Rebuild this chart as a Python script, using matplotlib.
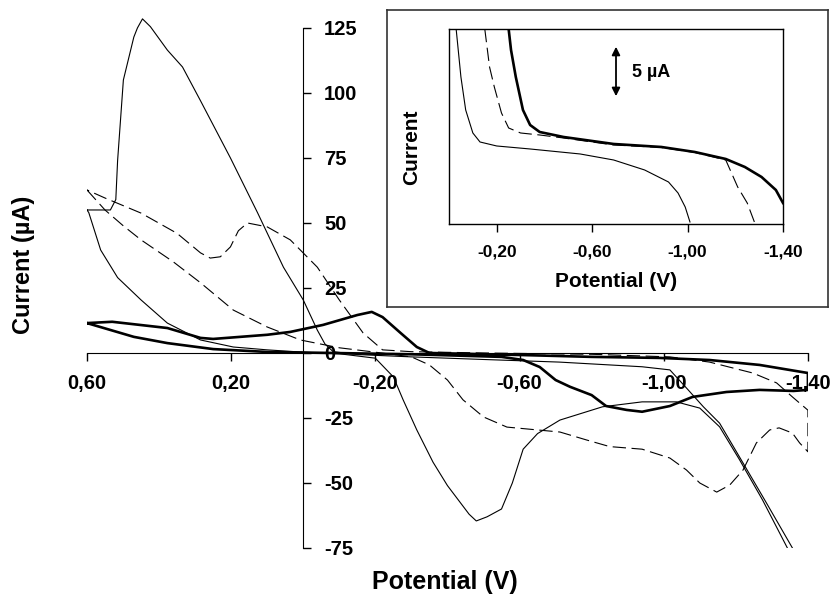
import matplotlib
matplotlib.use("Agg")
import matplotlib.pyplot as plt
from matplotlib.ticker import FuncFormatter

plt.rcParams['font.family'] = ['Liberation Sans', 'DejaVu Sans']
plt.rcParams['font.weight'] = 'bold'
plt.rcParams['axes.unicode_minus'] = False

# --- main voltammograms (potential V, current uA) ---
thin_x = [0.60, 0.595, 0.562, 0.515, 0.45, 0.377, 0.285, 0.194, 0.10, 0.0, -0.10, -0.20,
          -0.25, -0.277, -0.315, -0.36, -0.40, -0.43, -0.46, -0.48, -0.51, -0.55, -0.58,
          -0.61, -0.65, -0.712, -0.83, -0.94, -1.035, -1.10, -1.155, -1.21, -1.274, -1.343,
          -1.38, -1.357, -1.285, -1.22, -1.155, -1.11, -1.06, -1.017, -0.94, -0.71, -0.50,
          -0.30, -0.15, -0.083, -0.06, -0.039, 0.0, 0.055, 0.127, 0.202, 0.285, 0.335,
          0.377, 0.424, 0.446, 0.46, 0.47, 0.499, 0.515, 0.52, 0.535, 0.585, 0.60]
thin_y = [55.0, 54.0, 39.6, 29.0, 20.4, 11.5, 5.0, 2.3, 1.2, 0.3, -0.3, -2.0,
          -9.2, -18.0, -29.6, -42.0, -51.0, -56.5, -62.0, -64.6, -63.0, -60.0, -50.0,
          -37.0, -31.0, -25.8, -20.7, -18.8, -18.8, -21.2, -28.4, -41.0, -56.5, -75.0,
          -86.0, -75.0, -57.7, -42.3, -27.0, -20.7, -13.0, -6.5, -5.3, -3.5, -2.5,
          -1.5, -0.6, 0.5, 3.5, 8.8, 20.4, 33.0, 54.0, 75.0, 97.0, 110.0,
          116.5, 125.5, 128.5, 125.0, 121.5, 105.0, 74.0, 59.0, 55.0, 55.0, 55.0]

dash_x = [0.60, 0.55, 0.50, 0.45, 0.36, 0.285, 0.194, 0.10, 0.008, -0.10, -0.20, -0.30,
          -0.35, -0.40, -0.443, -0.50, -0.565, -0.65, -0.712, -0.787, -0.85, -0.94, -1.017,
          -1.063, -1.10, -1.147, -1.183, -1.22, -1.257, -1.294, -1.32, -1.357, -1.377, -1.40,
          -1.40, -1.357, -1.313, -1.247, -1.127, -1.017, -0.80, -0.50, -0.30, -0.22, -0.166,
          -0.10, -0.039, 0.036, 0.10, 0.155, 0.18, 0.202, 0.23, 0.258, 0.285, 0.35, 0.45,
          0.55, 0.60]
dash_y = [62.7, 55.0, 49.0, 43.5, 35.0, 27.0, 16.5, 10.0, 5.0, 2.0, 0.3, -1.5,
          -4.6, -10.4, -18.0, -24.6, -28.5, -29.6, -30.4, -33.5, -36.0, -37.0, -40.4,
          -45.0, -50.0, -53.5, -50.8, -45.0, -34.6, -29.6, -28.8, -30.8, -34.6, -38.0,
          -22.0, -16.9, -11.5, -7.7, -3.5, -1.5, -0.5, 0.0, 0.5, 1.2, 7.7,
          20.4, 33.0, 43.5, 48.5, 50.0, 47.0, 40.8, 37.0, 36.5, 38.5, 46.0, 53.8,
          59.6, 62.7]

thick_x = [0.60, 0.47, 0.377, 0.25, 0.10, -0.08, -0.30, -0.55, -0.61, -0.656, -0.70, -0.74,
           -0.80, -0.84, -0.897, -0.94, -1.017, -1.08, -1.174, -1.266, -1.36, -1.40,
           -1.40, -1.266, -1.127, -0.989, -0.80, -0.61, -0.35, -0.315, -0.27, -0.22, -0.19,
           -0.15, -0.055, 0.036, 0.10, 0.25, 0.285, 0.377, 0.53, 0.60]
thick_y = [11.5, 6.2, 3.8, 1.5, 0.4, 0.0, -0.5, -1.5, -2.7, -5.4, -10.4, -13.0,
           -16.2, -20.4, -21.9, -22.6, -20.4, -16.9, -15.0, -14.2, -14.6, -14.2,
           -7.7, -4.6, -2.7, -1.9, -1.5, -0.8, 0.0, 2.3, 7.7, 13.8, 15.8,
           14.6, 10.8, 8.1, 7.0, 5.4, 5.8, 9.6, 12.0, 11.5]

# --- inset (arbitrary current units, 1 unit = 1 uA) ---
in_thin_x = [-0.03, -0.05, -0.07, -0.10, -0.13, -0.20, -0.34, -0.55, -0.69, -0.82, -0.92,
             -0.96, -0.99, -1.01]
in_thin_y = [19.5, 14.7, 11.4, 9.1, 8.2, 7.8, 7.5, 7.0, 6.4, 5.4, 4.2, 3.1, 1.7, 0.2]
in_dash_x = [-0.15, -0.17, -0.19, -0.22, -0.25, -0.30, -0.38, -0.48, -0.69, -0.89, -1.03,
             -1.16, -1.21, -1.25, -1.28]
in_dash_y = [19.5, 15.7, 13.7, 11.1, 9.6, 9.1, 8.9, 8.6, 7.9, 7.65, 7.15, 6.4, 3.7, 2.1, 0.2]
in_thick_x = [-0.25, -0.26, -0.28, -0.31, -0.34, -0.38, -0.48, -0.69, -0.89, -1.03, -1.16,
              -1.24, -1.31, -1.37, -1.40]
in_thick_y = [19.5, 17.4, 14.7, 11.4, 9.9, 9.2, 8.7, 8.0, 7.7, 7.2, 6.5, 5.7, 4.7, 3.4, 2.1]

x_ticks = [0.60, 0.20, -0.20, -0.60, -1.00, -1.40]
y_ticks = [-75, -50, -25, 0, 25, 50, 75, 100, 125]
inset_ticks = [-0.20, -0.60, -1.00, -1.40]

comma_fmt = FuncFormatter(lambda v, p: f"{v:.2f}".replace('.', ','))

fig = plt.figure(figsize=(8.33, 6.01), dpi=100)
ax = fig.add_axes([0.1044, 0.0882, 0.8655, 0.8869])

ax.plot(thin_x, thin_y, color='black', lw=0.8)
ax.plot(dash_x, dash_y, color='black', lw=0.8, dashes=(12, 5))
ax.plot(thick_x, thick_y, color='black', lw=1.9)

ax.set_xlim(0.6, -1.4)
ax.set_ylim(-75, 130)
ax.spines['left'].set_visible(False)
ax.spines['top'].set_visible(False)
ax.spines['right'].set_position(('data', 0))
ax.spines['right'].set_bounds(-75, 125)
ax.spines['bottom'].set_position(('data', 0))
ax.spines['bottom'].set_bounds(0.6, -1.4)
ax.yaxis.set_ticks_position('right')
ax.set_xticks(x_ticks)
ax.set_yticks(y_ticks)
ax.xaxis.set_major_formatter(comma_fmt)
ax.tick_params(direction='out', length=6, width=1, labelsize=14.5, pad=9)
ax.patch.set_alpha(0)

fig.text(0.534, 0.032, 'Potential (V)', ha='center', va='center', fontsize=18)
fig.text(0.028, 0.559, 'Current (µA)', ha='center', va='center', fontsize=17,
         rotation=90)

# inset frame
frame = fig.add_axes([0.4646, 0.4892, 0.5294, 0.4942])
frame.set_xticks([])
frame.set_yticks([])
for sp in frame.spines.values():
    sp.set_linewidth(1.2)
    sp.set_color('#333333')

axin = fig.add_axes([0.539, 0.6273, 0.401, 0.3245])
axin.plot(in_thin_x, in_thin_y, color='black', lw=0.8)
axin.plot(in_dash_x, in_dash_y, color='black', lw=0.8, dashes=(12, 5))
axin.plot(in_thick_x, in_thick_y, color='black', lw=1.9)
axin.set_xlim(0.0, -1.4)
axin.set_ylim(0, 19.5)
axin.set_yticks([])
axin.set_xticks(inset_ticks)
axin.xaxis.set_major_formatter(comma_fmt)
axin.tick_params(direction='out', length=6, width=1, labelsize=12.5, pad=9)
for sp in axin.spines.values():
    sp.set_linewidth(1.0)

axin.annotate('', xy=(-0.70, 12.5), xytext=(-0.70, 18.0),
              arrowprops=dict(arrowstyle='<|-|>', color='black', lw=1.3,
                              mutation_scale=12))
axin.text(-0.765, 15.1, '5 µA', ha='left', va='center', fontsize=13)

fig.text(0.739, 0.531, 'Potential (V)', ha='center', va='center', fontsize=15)
fig.text(0.4946, 0.755, 'Current', ha='center', va='center', fontsize=15, rotation=90)

fig.savefig('out.png', dpi=100)
